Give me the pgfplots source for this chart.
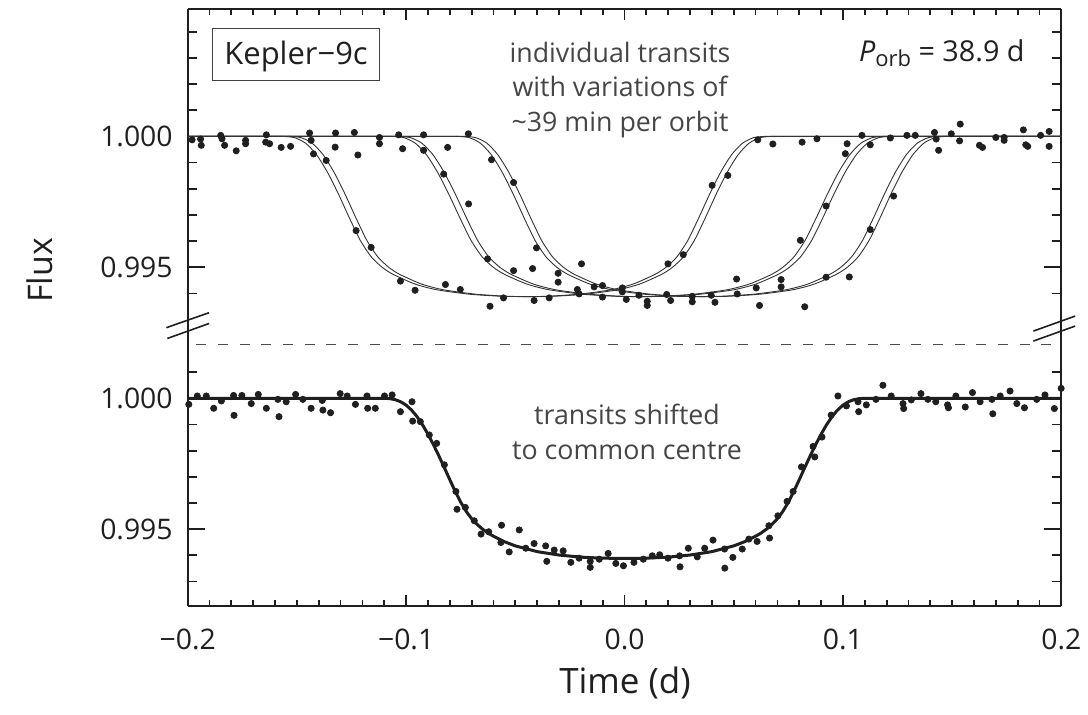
\documentclass[border=0pt]{standalone}
\usepackage{fontspec}
\setmainfont{Open Sans}
\usepackage{pgfplots}
\usepackage{pgfplotstable}
\pgfplotsset{compat=1.18}

% ---------- individual transits (upper panel) ----------
\pgfplotstableread{
x y
-0.1980 0.99987
-0.1941 0.99990
-0.1938 0.99966
-0.1849 1.00004
-0.1843 0.99991
-0.1831 0.99966
-0.1778 0.99945
-0.1735 0.99985
-0.1735 0.99972
-0.1640 1.00006
-0.1643 0.99978
-0.1625 0.99972
-0.1572 0.99958
-0.1529 0.99962
-0.1442 1.00013
-0.1435 0.99985
-0.1424 0.99933
-0.1366 0.99908
-0.1323 1.00013
-0.1325 0.99959
-0.1237 1.00015
-0.1221 0.99929
-0.1229 0.99640
-0.1160 0.99576
-0.1122 0.99996
-0.1122 0.99972
-0.1034 1.00006
-0.1016 0.99953
-0.1026 0.99447
-0.0959 0.99412
-0.0920 1.00006
-0.0920 0.99947
-0.0828 0.99856
-0.0810 0.99958
-0.0820 0.99434
-0.0752 0.99415
-0.0715 1.00010
-0.0714 0.99742
-0.0627 0.99532
-0.0616 0.99351
-0.0609 0.99911
-0.0554 0.99383
-0.0508 0.99824
-0.0403 0.99574
-0.0421 0.99495
-0.0508 0.99487
-0.0414 0.99373
-0.0345 0.99383
-0.0304 0.99477
-0.0304 0.99443
-0.0197 0.99513
-0.0216 0.99415
-0.0208 0.99398
-0.0139 0.99425
-0.0101 0.99430
-0.0101 0.99386
-0.0010 0.99421
-0.0010 0.99406
0.0008 0.99377
0.0066 0.99393
0.0104 0.99370
0.0104 0.99354
0.0193 0.99396
0.0211 0.99373
0.0199 0.99513
0.0269 0.99548
0.0310 0.99389
0.0310 0.99368
0.0401 0.99813
0.0473 0.99851
0.0397 0.99393
0.0414 0.99366
0.0513 0.99455
0.0516 0.99398
0.0603 0.99421
0.0610 0.99987
0.0679 0.99971
0.0618 0.99354
0.0717 0.99453
0.0717 0.99425
0.0813 0.99978
0.0881 0.99991
0.0825 0.99349
0.0923 0.99462
0.1029 0.99463
0.0805 0.99603
0.0923 0.99734
0.1011 0.99934
0.1019 0.99972
0.1087 1.00004
0.1125 0.99968
0.1217 0.99994
0.1232 0.99772
0.1125 0.99644
0.1293 1.00004
0.1331 1.00004
0.1419 1.00015
0.1427 0.99990
0.1438 0.99947
0.1496 1.00010
0.1537 1.00047
0.1534 0.99983
0.1625 0.99966
0.1639 0.99958
0.1700 0.99996
0.1738 0.99996
0.1738 0.99985
0.1826 1.00025
0.1837 0.99968
0.1846 0.99962
0.1905 1.00004
0.1944 1.00019
0.1944 0.99962
}\topdata

% model pairs for the three transits (two fits each: x1, x2)
\pgfplotstableread{
x1 x2 f
-0.2000 -0.2000 1.00000
-0.1660 -0.1630 1.00000
-0.1610 -0.1580 1.00000
-0.1560 -0.1530 1.00000
-0.1510 -0.1480 0.99995
-0.1460 -0.1430 0.99974
-0.1410 -0.1380 0.99930
-0.1360 -0.1330 0.99863
-0.1310 -0.1280 0.99780
-0.1260 -0.1230 0.99689
-0.1210 -0.1180 0.99603
-0.1160 -0.1130 0.99540
-0.1110 -0.1080 0.99500
-0.1060 -0.1030 0.99473
-0.0960 -0.0930 0.99436
-0.0860 -0.0830 0.99414
-0.0710 -0.0680 0.99397
-0.0560 -0.0530 0.99389
-0.0460 -0.0430 0.99388
-0.0360 -0.0330 0.99389
-0.0210 -0.0180 0.99397
-0.0060 -0.0030 0.99414
0.0040 0.0070 0.99436
0.0140 0.0170 0.99473
0.0190 0.0220 0.99500
0.0240 0.0270 0.99540
0.0290 0.0320 0.99603
0.0340 0.0370 0.99689
0.0390 0.0420 0.99780
0.0440 0.0470 0.99863
0.0490 0.0520 0.99930
0.0540 0.0570 0.99974
0.0590 0.0620 0.99995
0.0640 0.0670 1.00000
0.0690 0.0720 1.00000
0.0740 0.0770 1.00000
0.2000 0.2000 1.00000
}\transitA

\pgfplotstableread{
x1 x2 f
-0.2000 -0.2000 1.00000
-0.1162 -0.1132 1.00000
-0.1111 -0.1081 1.00000
-0.1060 -0.1030 1.00000
-0.1009 -0.0979 0.99995
-0.0958 -0.0928 0.99974
-0.0907 -0.0877 0.99930
-0.0856 -0.0826 0.99863
-0.0805 -0.0775 0.99780
-0.0754 -0.0724 0.99689
-0.0703 -0.0673 0.99603
-0.0652 -0.0622 0.99540
-0.0601 -0.0571 0.99500
-0.0550 -0.0520 0.99473
-0.0448 -0.0418 0.99436
-0.0346 -0.0316 0.99414
-0.0193 -0.0163 0.99397
-0.0040 -0.0010 0.99389
0.0062 0.0092 0.99388
0.0164 0.0194 0.99389
0.0317 0.0347 0.99397
0.0470 0.0500 0.99414
0.0572 0.0602 0.99436
0.0674 0.0704 0.99473
0.0725 0.0755 0.99500
0.0776 0.0806 0.99540
0.0827 0.0857 0.99603
0.0878 0.0908 0.99689
0.0929 0.0959 0.99780
0.0980 0.1010 0.99863
0.1031 0.1061 0.99930
0.1082 0.1112 0.99974
0.1133 0.1163 0.99995
0.1184 0.1214 1.00000
0.1235 0.1265 1.00000
0.1286 0.1316 1.00000
0.2000 0.2000 1.00000
}\transitB

\pgfplotstableread{
x1 x2 f
-0.2000 -0.2000 1.00000
-0.0860 -0.0830 1.00000
-0.0810 -0.0780 1.00000
-0.0760 -0.0730 1.00000
-0.0710 -0.0680 0.99995
-0.0660 -0.0630 0.99974
-0.0610 -0.0580 0.99930
-0.0560 -0.0530 0.99863
-0.0510 -0.0480 0.99780
-0.0460 -0.0430 0.99689
-0.0410 -0.0380 0.99603
-0.0360 -0.0330 0.99540
-0.0310 -0.0280 0.99500
-0.0260 -0.0230 0.99473
-0.0160 -0.0130 0.99436
-0.0060 -0.0030 0.99414
0.0090 0.0120 0.99397
0.0240 0.0270 0.99389
0.0340 0.0370 0.99388
0.0440 0.0470 0.99389
0.0590 0.0620 0.99397
0.0740 0.0770 0.99414
0.0840 0.0870 0.99436
0.0940 0.0970 0.99473
0.0990 0.1020 0.99500
0.1040 0.1070 0.99540
0.1090 0.1120 0.99603
0.1140 0.1170 0.99689
0.1190 0.1220 0.99780
0.1240 0.1270 0.99863
0.1290 0.1320 0.99930
0.1340 0.1370 0.99974
0.1390 0.1420 0.99995
0.1440 0.1470 1.00000
0.1490 0.1520 1.00000
0.1540 0.1570 1.00000
0.2000 0.2000 1.00000
}\transitC

% ---------- transits shifted to a common centre (lower panel) ----------
\pgfplotstableread{
x y
-0.1995 0.99977
-0.1956 1.00009
-0.1915 1.00009
-0.1881 0.99962
-0.1846 0.99990
-0.1790 1.00011
-0.1788 0.99935
-0.1752 1.00011
-0.1709 0.99980
-0.1677 1.00015
-0.1640 0.99962
-0.1587 0.99996
-0.1582 0.99930
-0.1549 0.99987
-0.1506 1.00015
-0.1473 0.99996
-0.1435 0.99962
-0.1384 0.99992
-0.1381 0.99955
-0.1346 0.99945
-0.1302 1.00018
-0.1270 1.00009
-0.1232 0.99977
-0.1179 1.00009
-0.1176 0.99962
-0.1141 0.99962
-0.1099 1.00009
-0.1064 1.00013
-0.1026 0.99949
-0.0973 0.99987
-0.0970 0.99913
-0.0935 0.99911
-0.0894 0.99860
-0.0860 0.99828
-0.0825 0.99746
-0.0772 0.99644
-0.0767 0.99576
-0.0729 0.99583
-0.0688 0.99532
-0.0657 0.99481
-0.0622 0.99490
-0.0563 0.99515
-0.0566 0.99449
-0.0528 0.99413
-0.0482 0.99497
-0.0452 0.99427
-0.0414 0.99445
-0.0361 0.99436
-0.0356 0.99377
-0.0322 0.99420
-0.0281 0.99417
-0.0246 0.99373
-0.0208 0.99389
-0.0157 0.99377
-0.0157 0.99354
-0.0116 0.99385
-0.0075 0.99407
-0.0040 0.99369
-0.0005 0.99360
0.0043 0.99373
0.0086 0.99385
0.0127 0.99398
0.0161 0.99402
0.0199 0.99389
0.0252 0.99398
0.0254 0.99356
0.0292 0.99427
0.0333 0.99394
0.0367 0.99427
0.0405 0.99458
0.0458 0.99424
0.0459 0.99351
0.0496 0.99392
0.0539 0.99424
0.0569 0.99462
0.0607 0.99453
0.0664 0.99466
0.0661 0.99513
0.0702 0.99551
0.0744 0.99606
0.0772 0.99644
0.0810 0.99738
0.0863 0.99816
0.0871 0.99776
0.0904 0.99852
0.0946 0.99936
0.0977 1.00009
0.1016 0.99971
0.1069 0.99987
0.1072 0.99949
0.1107 0.99975
0.1151 0.99996
0.1183 1.00050
0.1221 1.00009
0.1275 0.99980
0.1278 0.99961
0.1313 0.99994
0.1357 1.00018
0.1389 0.99996
0.1425 0.99987
0.1479 0.99975
0.1483 0.99964
0.1517 1.00009
0.1560 0.99967
0.1593 1.00022
0.1628 0.99987
0.1682 0.99996
0.1686 0.99941
0.1720 1.00009
0.1765 1.00028
0.1796 0.99980
0.1831 0.99964
0.1887 0.99996
0.1925 1.00013
0.1968 0.99961
0.1999 1.00038
}\bottomdata

\pgfplotstableread{
x f
-0.2000 1.00000
-0.1100 1.00000
-0.1075 0.99999
-0.1050 0.99995
-0.1025 0.99987
-0.1000 0.99974
-0.0975 0.99955
-0.0950 0.99930
-0.0925 0.99899
-0.0900 0.99863
-0.0875 0.99823
-0.0850 0.99780
-0.0825 0.99735
-0.0800 0.99689
-0.0775 0.99644
-0.0750 0.99603
-0.0725 0.99568
-0.0700 0.99540
-0.0675 0.99518
-0.0650 0.99500
-0.0625 0.99485
-0.0600 0.99473
-0.0550 0.99452
-0.0500 0.99436
-0.0400 0.99414
-0.0300 0.99401
-0.0200 0.99393
-0.0100 0.99389
0.0000 0.99388
0.0100 0.99389
0.0200 0.99393
0.0300 0.99401
0.0400 0.99414
0.0500 0.99436
0.0550 0.99452
0.0600 0.99473
0.0625 0.99485
0.0650 0.99500
0.0675 0.99518
0.0700 0.99540
0.0725 0.99568
0.0750 0.99603
0.0775 0.99644
0.0800 0.99689
0.0825 0.99735
0.0850 0.99780
0.0875 0.99823
0.0900 0.99863
0.0925 0.99899
0.0950 0.99930
0.0975 0.99955
0.1000 0.99974
0.1025 0.99987
0.1050 0.99995
0.1075 0.99999
0.1100 1.00000
0.2000 1.00000
}\commonfit

\definecolor{ink}{gray}{0.12}
\definecolor{note}{gray}{0.27}

\pgfplotsset{
  panel/.style={
    scale only axis, width=437.5pt,
    xmin=-0.2, xmax=0.2,
    axis y line=box,
    axis line style={-, line width=0.9pt, ink},
    every non boxed x axis/.append style={x axis line style={-}, xtick align=inside},
    tick align=inside,
    tick style={line width=0.9pt, ink},
    major tick length=8.5pt, minor tick length=4.5pt,
    xtick style={/pgfplots/major tick length=5.5pt, /pgfplots/minor tick length=3pt},
    xtick={-0.2,-0.1,0,0.1,0.2}, minor x tick num=9,
    ytick={0.995,1.000}, yticklabels={0.995,1.000},
    tick label style={font=\fontsize{14.2}{17}\selectfont, ink},
    yticklabel style={xshift=-4pt},
    xticklabel style={yshift=-8pt},
  },
  fitpair/.style={line width=0.45pt, black!80, smooth, tension=0.4},
  dots/.style={only marks, mark=*, mark size=1.55pt, ink},
}

\begin{document}
\begin{tikzpicture}[x=1pt,y=1pt]
\path (0,0) rectangle (544,358);

% upper panel
\begin{axis}[panel, at={(94pt,185.5pt)}, anchor=south west, height=168pt,
  ymin=0.99205, ymax=1.00487,
  axis x line=top, x axis line style={-}, xticklabels={},
  minor ytick={0.994,0.996,0.997,0.998,0.999,1.001,1.002,1.003,1.004}]
\addplot[fitpair] table[x=x1,y=f]{\transitA};
\addplot[fitpair] table[x=x2,y=f]{\transitA};
\addplot[fitpair] table[x=x1,y=f]{\transitB};
\addplot[fitpair] table[x=x2,y=f]{\transitB};
\addplot[fitpair] table[x=x1,y=f]{\transitC};
\addplot[fitpair] table[x=x2,y=f]{\transitC};
\addplot[dots] table[x=x,y=y]{\topdata};
\end{axis}

% lower panel
\begin{axis}[panel, at={(94pt,54.5pt)}, anchor=south west, height=131pt,
  ymin=0.99206, ymax=1.00206,
  axis x line=bottom, x axis line style={-}, xticklabels={−0.2,−0.1,0.0,0.1,0.2},
  minor ytick={0.993,0.994,0.996,0.997,0.998,0.999,1.001}]
\addplot[line width=1.5pt, ink] table[x=x,y=f]{\commonfit};
\addplot[dots] table[x=x,y=y]{\bottomdata};
\end{axis}

% separator and axis breaks
\draw[black!70, line width=0.5pt, dash pattern=on 5pt off 5.85pt, dash phase=6.5pt]
  (94,185.5) -- (531.5,185.5);
\draw[ink, line width=0.8pt] (83.3,193.9) -- (104.7,201.4) (83.8,188.5) -- (104.7,196.0);
\draw[ink, line width=0.8pt] (517.5,192.2) -- (538.4,199.7) (517.5,187.2) -- (538.4,194.7);

% axis titles
\node[rotate=90, font=\fontsize{17}{20}\selectfont, ink] at (20,222.5) {Flux};
\node[anchor=base, font=\fontsize{17.5}{20}\selectfont, ink] at (313,10.5) {Time (d)};

% annotations
\draw[black!75, line width=0.5pt] (106.5,317.5) rectangle (190,343.5);
\node[anchor=base, font=\fontsize{15.5}{18}\selectfont, ink] at (148.25,325.5) {Kepler−9c};
\begin{scope}[every node/.style={anchor=base, font=\fontsize{13.4}{16}\selectfont, note}]
\node at (310.5,326.5) {individual transits};
\node at (310.5,309.5) {with variations of};
\node at (310.5,292) {\textasciitilde39 min per orbit};
\node at (314,145.5) {transits shifted};
\node at (314,128) {to common centre};
\end{scope}
\node[anchor=base east, font=\fontsize{14.4}{17}\selectfont, ink] at (516.6,327.2)
  {\textit{P}\raisebox{-0.35ex}{\fontsize{11}{12}\selectfont orb} = 38.9 d};
\end{tikzpicture}
\end{document}
